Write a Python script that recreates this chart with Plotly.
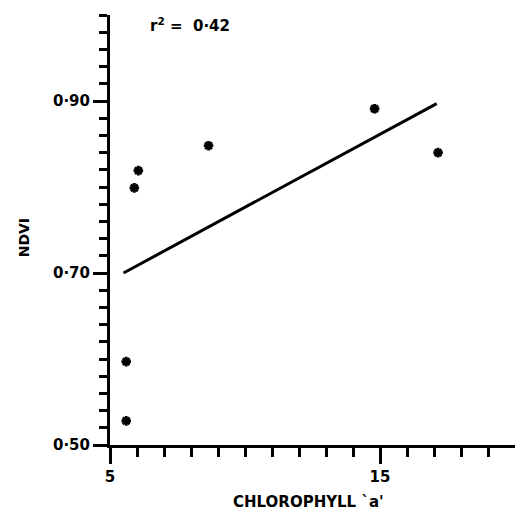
import plotly.graph_objects as go

# Data
chl_a = [5.6, 5.6, 5.9, 6.05, 8.65, 14.8, 17.15]
ndvi = [0.528, 0.597, 0.799, 0.819, 0.848, 0.891, 0.840]

fit_x = [5.5, 17.1]
fit_y = [0.700, 0.897]

x_tick_vals = [5, 15]
x_tick_text = ["5", "15"]
x_minor_vals = list(range(5, 20))
y_tick_vals = [0.50, 0.70, 0.90]
y_tick_text = ["0·50", "0·70", "0·90"]
y_minor_vals = [round(0.50 + 0.02 * i, 2) for i in range(26)]

FONT = "DejaVu Sans"

fig = go.Figure()
fig.add_trace(go.Scatter(
    x=fit_x, y=fit_y, mode="lines",
    line=dict(color="black", width=3), showlegend=False, hoverinfo="skip"))
fig.add_trace(go.Scatter(
    x=chl_a, y=ndvi, mode="markers",
    marker=dict(symbol="asterisk", size=8, color="black",
                line=dict(color="black", width=2.8)),
    showlegend=False))

fig.update_layout(
    width=516, height=519,
    margin=dict(l=110, r=1, t=15, b=74),
    paper_bgcolor="white", plot_bgcolor="white",
    font=dict(family=FONT, color="black", size=14, weight="bold"),
    xaxis=dict(
        range=[5, 20], showgrid=False, zeroline=False,
        showline=True, linecolor="black", linewidth=3,
        ticks="outside", ticklen=16, tickwidth=2.5, tickcolor="black",
        tickmode="array", tickvals=x_tick_vals, ticktext=x_tick_text,
        tickfont=dict(family=FONT, size=15, weight="bold"),
        minor=dict(tickmode="array", tickvals=x_minor_vals, ticks="outside",
                   ticklen=9, tickwidth=2.5, tickcolor="black", showgrid=False),
    ),
    yaxis=dict(
        range=[0.5, 1.0], showgrid=False, zeroline=False,
        showline=True, linecolor="black", linewidth=3,
        ticks="outside", ticklen=14, tickwidth=2.5, tickcolor="black",
        tickmode="array", tickvals=y_tick_vals, ticktext=y_tick_text,
        tickfont=dict(family=FONT, size=15, weight="bold"),
        minor=dict(tickmode="array", tickvals=y_minor_vals, ticks="outside",
                   ticklen=8, tickwidth=2.5, tickcolor="black", showgrid=False),
    ),
    annotations=[
        dict(text="CHLOROPHYLL `a'", xref="paper", yref="paper",
             x=0.49, y=-0.133, xanchor="center", yanchor="middle",
             showarrow=False, font=dict(family=FONT, size=15, weight="bold")),
        dict(text="NDVI", xref="paper", yref="paper",
             x=-0.212, y=0.481, xanchor="center", yanchor="middle",
             textangle=-90, showarrow=False,
             font=dict(family=FONT, size=14, weight="bold")),
        dict(text="r<sup>2</sup> =  0·42", xref="paper", yref="paper",
             x=0.094, y=0.977, xanchor="left", yanchor="middle",
             showarrow=False, font=dict(family=FONT, size=15, weight="bold")),
    ],
)

fig.write_html("out.html")
